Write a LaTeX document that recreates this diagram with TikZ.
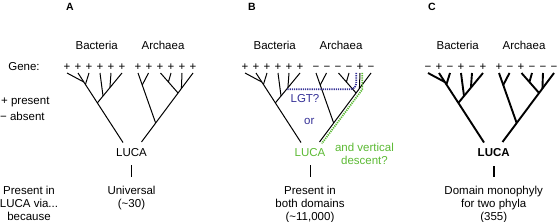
\documentclass[tikz,border=0pt]{standalone}
\usepackage{fontspec}
\setmainfont{Liberation Sans}
\usetikzlibrary{calc}
\definecolor{lgtblue}{RGB}{52,48,150}
\definecolor{vgreen}{RGB}{92,186,52}
\tikzset{
  br/.style={line width=1pt},
  brc/.style={line width=1.9pt},
  sgn/.style={anchor=base, inner sep=0pt, font=\fontsize{11.5}{13}\selectfont},
  txt/.style={inner sep=0pt, font=\fontsize{11.5}{13}\selectfont, align=center},
  panel/.style={inner sep=0pt, font=\fontsize{10.5}{12}\selectfont\bfseries},
  dots/.style={line width=1.8pt, dash pattern=on 1.2pt off 1pt},
}
\newcommand{\phylo}[4]{%
  \begin{scope}[xshift=#2]
    \coordinate (#1b1) at (67,73);
    \coordinate (#1b2) at (78,73);
    \coordinate (#1b3) at (89,73);
    \coordinate (#1b4) at (100,73);
    \coordinate (#1b5) at (111,73);
    \coordinate (#1b6) at (122,73);
    \coordinate (#1Lb) at (123,142.5);
    \coordinate (#1nb1) at ($(#1b2)!0.13!(#1Lb)$);
    \coordinate (#1nb3) at ($(#1b2)!0.165!(#1Lb)$);
    \coordinate (#1nb6) at ($(#1b2)!0.43!(#1Lb)$);
    \coordinate (#1nb4) at ($(#1b6)!0.77!(#1nb6)$);
    \coordinate (#1nb5) at ($(#1b6)!0.49!(#1nb6)$);
    \draw[#3] (#1b2) -- (#1Lb);
    \draw[#3] (#1b1) -- (#1nb1);
    \draw[#3] (#1b3) -- (#1nb3);
    \draw[#3] (#1b6) -- (#1nb6);
    \draw[#3] (#1b4) -- (#1nb4);
    \draw[#3] (#1b5) -- (#1nb5);
    \coordinate (#1a1) at (138,73);
    \coordinate (#1a2) at (148.5,73);
    \coordinate (#1a3) at (160.5,73);
    \coordinate (#1a4) at (171,73);
    \coordinate (#1a5) at (182,73);
    \coordinate (#1a6) at (193,73);
    \coordinate (#1La) at (141.5,142);
    \coordinate (#1na1) at ($(#1a6)!0.725!(#1La)$);
    \coordinate (#1na2) at ($(#1a1)!0.24!(#1na1)$);
    \coordinate (#1na3) at ($(#1a6)!0.29!(#1La)$);
    \coordinate (#1na4) at ($(#1a3)!0.45!(#1na3)$);
    \coordinate (#1na5) at ($(#1a6)!0.225!(#1La)$);
    \draw[#3] (#1a6) -- (#1La);
    \draw[#3] (#1a1) -- (#1na1);
    \draw[#3] (#1a2) -- (#1na2);
    \draw[#3] (#1a3) -- (#1na3);
    \draw[#3] (#1a4) -- (#1na4);
    \draw[#3] (#1a5) -- (#1na5);
    \foreach \ss [count=\i] in {#4} {
      \pgfmathsetmacro\xx{\i<7 ? 67+11*(\i-1) : 138+11*(\i-7)}
      \node[sgn] (#1s\i) at (\xx,70.5) {\ss};
    }
    \node[txt] (#1bac) at (96.7,45) {Bacteria};
    \node[txt] (#1arc) at (163,45) {Archaea};
  \end{scope}}
\begin{document}
\begin{tikzpicture}[x=1pt,y=-1pt]
  \useasboundingbox (0,0) rectangle (560,222);
  % left legend
  \node[sgn] (gene) at (24,70.5) {Gene:};
  \node[sgn, anchor=base west] (pres) at (1,104) {+ present};
  \node[sgn, anchor=base west] (abs) at (0,121) {− absent};
  \node[txt, anchor=north] (via) at (29,185.7) {Present in\\LUCA via...\\because};
  % panel labels
  \node[panel] (pA) at (70,7) {A};
  \node[panel] (pB) at (252,7) {B};
  \node[panel] (pC) at (432,6.5) {C};
  % trees
  \phylo{A}{0pt}{br}{+,+,+,+,+,+,+,+,+,+,+,+}
  \phylo{B}{178pt}{br}{+,+,+,+,+,+,−,−,−,−,+,−}
  \phylo{C}{361pt}{brc}{−,+,−,+,−,+,+,−,+,−,−,−}
  % LUCA labels and outcomes
  \node[sgn] (Aluca) at (131.5,157) {LUCA};
  \node[txt, anchor=north] (Aout) at (131.5,185.7) {Universal\\(\textasciitilde30)};
  \draw[br, shorten <=8pt, shorten >=8.7pt] (Aluca.base) -- (Aout.north);
  \node[sgn, text=vgreen] (Bluca) at (310,157) {LUCA};
  \node[txt, anchor=north] (Bout) at (310,185.7) {Present in\\both domains\\(\textasciitilde11,000)};
  \draw[br, shorten <=8pt, shorten >=8.7pt] (Bluca.base) -- (Bout.north);
  \node[sgn, font=\fontsize{11.5}{13}\selectfont\bfseries] (Cluca) at (493.7,157) {LUCA};
  \node[txt, anchor=north] (Cout) at (493.7,185.7) {Domain monophyly\\for two phyla\\(355)};
  \draw[brc, shorten <=9pt, shorten >=8.7pt] (Cluca.base) -- (Cout.north);
  % LGT path
  \coordinate (lgt1) at (356.3,73);
  \coordinate (lgt2) at (356.3,83.5);
  \coordinate (lgt3) at (351,89.3);
  \coordinate (lgt4) at ($(Bb6)!0.545!(Bnb6)$);
  \draw[dots, lgtblue] (lgt1) -- (lgt2) to[out=-90,in=0] (lgt3) -- (lgt4);
  \node[txt, text=lgtblue] (lgtq) at (305,98.3) {LGT?};
  \node[txt, text=lgtblue] (or) at (309.3,121.7) {or};
  % vertical descent path
  \coordinate (vd1) at (362.3,73);
  \coordinate (vd2) at (362.3,89.5);
  \coordinate (vd3) at (321.8,143.5);
  \draw[dots, vgreen] (vd1) -- (vd2) -- (vd3);
  \node[txt, text=vgreen] (vdq) at (364.5,153.5) {and vertical\\descent?};
\end{tikzpicture}
\end{document}
